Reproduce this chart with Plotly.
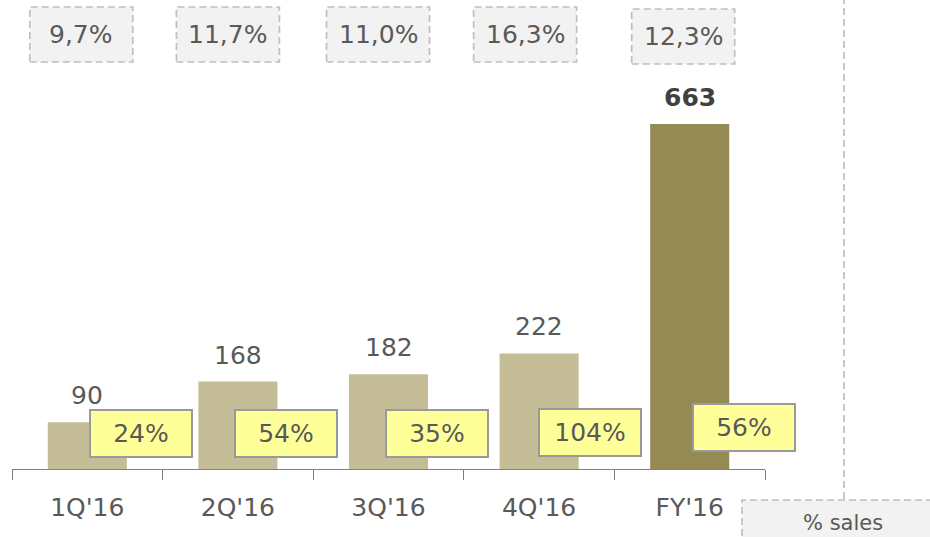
import plotly.graph_objects as go

categories = ["1Q'16", "2Q'16", "3Q'16", "4Q'16", "FY'16"]
values = [90, 168, 182, 222, 663]
growth_labels = ["24%", "54%", "35%", "104%", "56%"]
sales_pct_labels = ["9,7%", "11,7%", "11,0%", "16,3%", "12,3%"]

LIGHT = "#C4BD97"
DARK = "#948A54"
TXT = "#595959"
FONT = "DejaVu Sans"
FS = 25
DASH = "7px,4px"

W, H = 930, 537
L, R, T, B = 12, 165, 0, 68
PW = W - L - R
PH = H - T - B
cat_w = PW / len(categories)

colors = [LIGHT] * (len(categories) - 1) + [DARK]

fig = go.Figure()
fig.add_trace(go.Bar(
    x=categories, y=values, marker=dict(color=colors, line=dict(width=0)),
    width=0.525, hoverinfo="skip",
))

annotations = []
shapes = []

# value labels
for i, (c, v) in enumerate(zip(categories, values)):
    last = i == len(categories) - 1
    annotations.append(dict(
        x=c, y=v, xref="x", yref="y", yanchor="bottom", yshift=10,
        text=f"<b>{v}</b>" if last else str(v), showarrow=False,
        font=dict(family=FONT, size=FS, color="#404040" if last else TXT),
    ))

# yellow growth boxes
g_shift = [54, 48, 48, 51, 54]
g_cy = [433.5, 433.5, 433.5, 432, 427.5]
for i, (c, t) in enumerate(zip(categories, growth_labels)):
    annotations.append(dict(
        x=c, xref="x", xshift=g_shift[i],
        y=1 - (g_cy[i] - T) / PH, yref="paper", yanchor="middle",
        text=t, showarrow=False, width=100, height=45, borderpad=0,
        bgcolor="#FFFF99", bordercolor="#999999", borderwidth=2,
        font=dict(family=FONT, size=FS, color=TXT),
    ))

# top dashed boxes (% of sales)
s_shift = [-6, -10, -10.5, -14, -6.5]
s_cy = [34.5, 34.5, 34.5, 34.5, 36.5]
bw, bh = 103, 55
for i, t in enumerate(sales_pct_labels):
    cx = L + (i + 0.5) * cat_w + s_shift[i]
    x0 = (cx - bw / 2 - L) / PW
    x1 = (cx + bw / 2 - L) / PW
    y0 = 1 - (s_cy[i] + bh / 2 - T) / PH
    y1 = 1 - (s_cy[i] - bh / 2 - T) / PH
    shapes.append(dict(type="rect", xref="paper", yref="paper",
                       x0=x0, x1=x1, y0=y0, y1=y1,
                       fillcolor="#F2F2F2", layer="below",
                       line=dict(color="#BFBFBF", width=1.7, dash=DASH)))
    annotations.append(dict(
        x=(x0 + x1) / 2, y=(y0 + y1) / 2, xref="paper", yref="paper",
        xanchor="center", yanchor="middle", text=t, showarrow=False,
        font=dict(family=FONT, size=FS, color=TXT),
    ))

# vertical dashed separator
sep_x = (844 - L) / PW
shapes.append(dict(type="line", xref="paper", yref="paper",
                   x0=sep_x, x1=sep_x, y0=1 - (499 - T) / PH, y1=1.0,
                   line=dict(color="#BFBFBF", width=1.7, dash=DASH)))

# legend box "% sales"
lx0 = (742 - L) / PW
lx1 = (945 - L) / PW
ly1 = 1 - (500 - T) / PH
ly0 = 1 - (560 - T) / PH
shapes.append(dict(type="rect", xref="paper", yref="paper",
                   x0=lx0, x1=lx1, y0=ly0, y1=ly1,
                   fillcolor="#F2F2F2",
                   line=dict(color="#BFBFBF", width=1.7, dash=DASH)))
annotations.append(dict(
    x=(843 - L) / PW, y=1 - (523 - T) / PH, xref="paper", yref="paper",
    xanchor="center", yanchor="middle", text="% sales", showarrow=False,
    font=dict(family=FONT, size=21, color=TXT),
))

fig.update_layout(
    width=W, height=H,
    margin=dict(l=L, r=R, t=T, b=B, pad=0),
    paper_bgcolor="white", plot_bgcolor="white",
    showlegend=False, bargap=0.475,
    font=dict(family=FONT, size=FS, color=TXT),
    xaxis=dict(
        type="category", range=[-0.5, len(categories) - 0.5],
        showline=True, linecolor="#808080", linewidth=1,
        ticks="outside", tickson="boundaries", ticklen=10,
        tickcolor="#808080", tickwidth=1, ticklabelstandoff=16,
        tickfont=dict(family=FONT, size=FS, color=TXT),
        showgrid=False, zeroline=False, fixedrange=True,
    ),
    yaxis=dict(range=[0, 901], visible=False, showgrid=False,
               zeroline=False, fixedrange=True),
    annotations=annotations, shapes=shapes,
)

fig.write_html(
    "out.html",
    config={"displayModeBar": False},
    post_script="document.body.style.margin='0';document.body.style.overflow='hidden';",
)
